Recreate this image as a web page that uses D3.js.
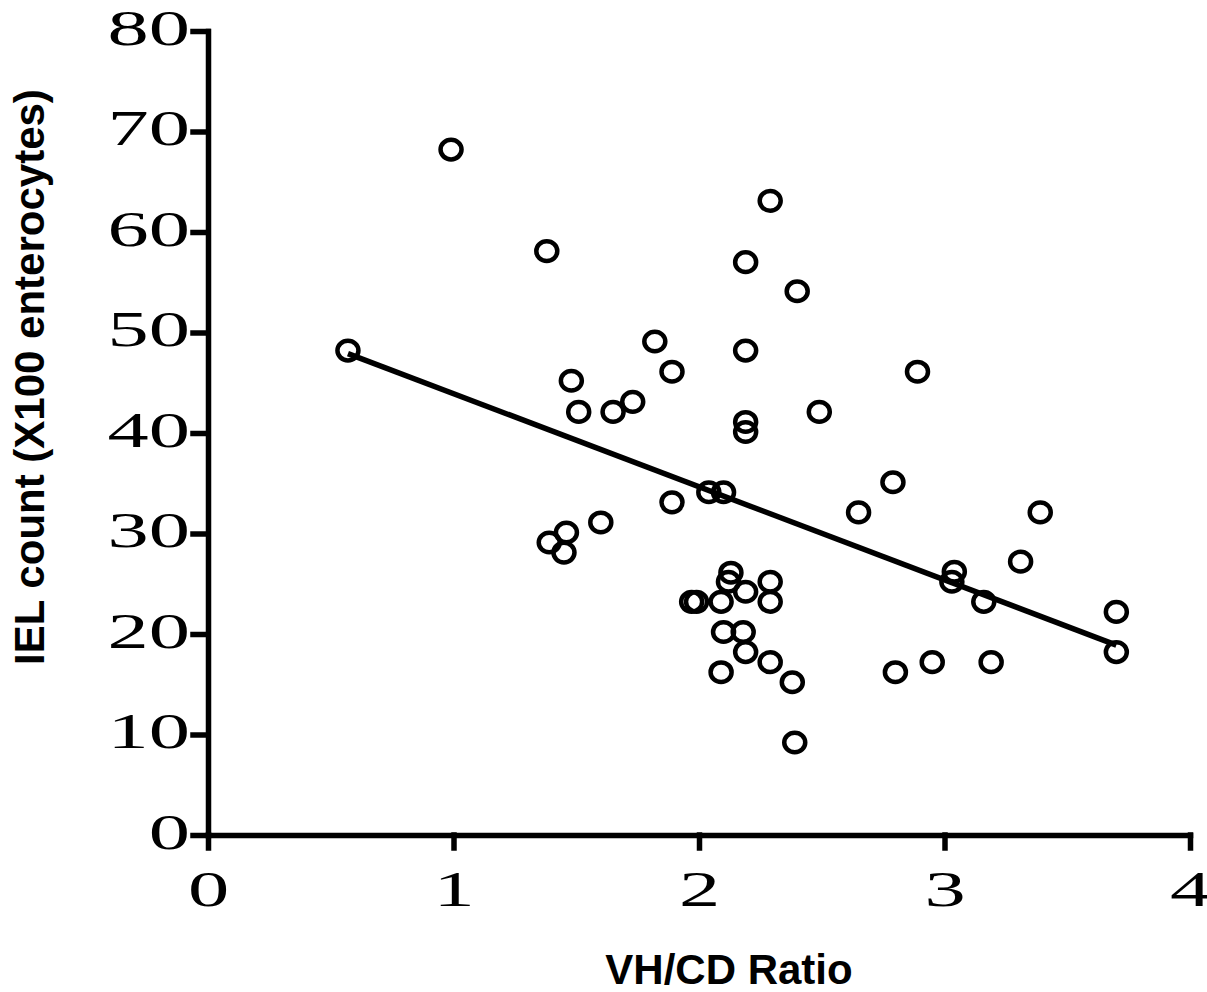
<!DOCTYPE html>
<html>
<head>
<meta charset="utf-8">
<script src="https://cdn.jsdelivr.net/npm/d3@7"></script>
<style>
  body { margin: 0; background: #fff; }
  .tick text { font-family: "Liberation Serif", serif; font-size: 50px; fill: #000; }
  .axis-title { font-family: "Liberation Sans", Arial, sans-serif; font-weight: bold; font-size: 42px; fill: #000; }
</style>
</head>
<body>
<div class="chart"></div>
<script>
// VH/CD ratio vs IEL count
var vhcd = [0.99, 0.57, 1.38, 2.29, 2.19, 2.40, 1.82, 2.19, 1.48, 1.89,
            1.51, 1.65, 1.73, 2.19, 2.19, 2.49, 2.89, 2.79, 2.65, 3.39,
            3.31, 1.89, 2.04, 2.10, 1.39, 1.46, 1.45, 1.60, 1.97, 1.99,
            2.09, 2.13, 2.12, 2.19, 2.29, 2.29, 2.10, 2.18, 2.19, 2.29,
            2.09, 2.38, 2.39, 3.04, 3.03, 3.16, 3.70, 3.70, 2.80, 2.95, 3.19];
var iel  = [68.2, 48.2, 58.1, 63.1, 57.0, 54.1, 49.1, 48.2, 45.2, 46.1,
            42.1, 42.1, 43.1, 41.1, 40.1, 42.1, 46.1, 35.1, 32.1, 32.1,
            27.2, 33.1, 34.1, 34.1, 29.1, 30.1, 28.1, 31.1, 23.2, 23.2,
            23.2, 26.1, 25.2, 24.2, 25.2, 23.2, 20.2, 20.2, 18.2, 17.2,
            16.2, 15.2, 9.2, 26.2, 25.2, 23.2, 22.2, 18.2, 16.2, 17.2, 17.2];

// regression line end points
var fitX = [0.57, 3.70];
var fitY = [47.9, 18.9];

var xTicks = [0, 1, 2, 3, 4];
var yTicks = [0, 10, 20, 30, 40, 50, 60, 70, 80];

var svgWidth = 1207, svgHeight = 992;

var svg = d3.select(".chart")
  .append("svg")
  .style("display", "block")
  .attr("width", svgWidth)
  .attr("height", svgHeight);

var xScale = d3.scaleLinear().domain([0, 4]).range([208, 1190]);
var yScale = d3.scaleLinear().domain([0, 80]).range([835, 31]);

var stretch = 1.65;

// y axis
var yAxis = d3.axisLeft(yScale)
  .tickValues(yTicks)
  .tickFormat(d3.format("d"))
  .tickSize(15)
  .tickSizeOuter(0);

var yg = svg.append("g")
  .attr("transform", "translate(208,0)")
  .call(yAxis);

yg.selectAll(".tick text")
  .attr("x", 0)
  .attr("dy", null)
  .attr("y", 13)
  .attr("transform", "translate(-18,0) scale(" + stretch + ",1)");

// x axis
var xAxis = d3.axisBottom(xScale)
  .tickValues(xTicks)
  .tickFormat(d3.format("d"))
  .tickSize(13)
  .tickSizeOuter(0);

var xg = svg.append("g")
  .attr("transform", "translate(0,835)")
  .call(xAxis);

xg.selectAll(".tick text")
  .attr("dy", null)
  .attr("y", 0)
  .attr("transform", "translate(0,71) scale(" + stretch + ",1)");

svg.selectAll(".domain, .tick line")
  .attr("stroke", "#000")
  .attr("stroke-width", 5.5)
  .attr("stroke-linecap", "square");

// regression line
var line = d3.line()
  .x(d => xScale(d[0]))
  .y(d => yScale(d[1]));

svg.append("path")
  .datum(d3.zip(fitX, fitY))
  .attr("d", line)
  .attr("fill", "none")
  .attr("stroke", "#000")
  .attr("stroke-width", 5.5);

// points
svg.selectAll("ellipse.pt")
  .data(d3.zip(vhcd, iel))
  .enter()
  .append("ellipse")
  .attr("class", "pt")
  .attr("cx", d => xScale(d[0]))
  .attr("cy", d => yScale(d[1]))
  .attr("rx", 10.5)
  .attr("ry", 9.8)
  .attr("fill", "none")
  .attr("stroke", "#000")
  .attr("stroke-width", 4.5);

// axis titles
svg.append("text")
  .attr("class", "axis-title")
  .attr("x", 729)
  .attr("y", 984)
  .attr("text-anchor", "middle")
  .text("VH/CD Ratio");

svg.append("text")
  .attr("class", "axis-title")
  .attr("transform", "translate(44,377) rotate(-90)")
  .attr("text-anchor", "middle")
  .text("IEL count (X100 enterocytes)");
</script>
</body>
</html>
